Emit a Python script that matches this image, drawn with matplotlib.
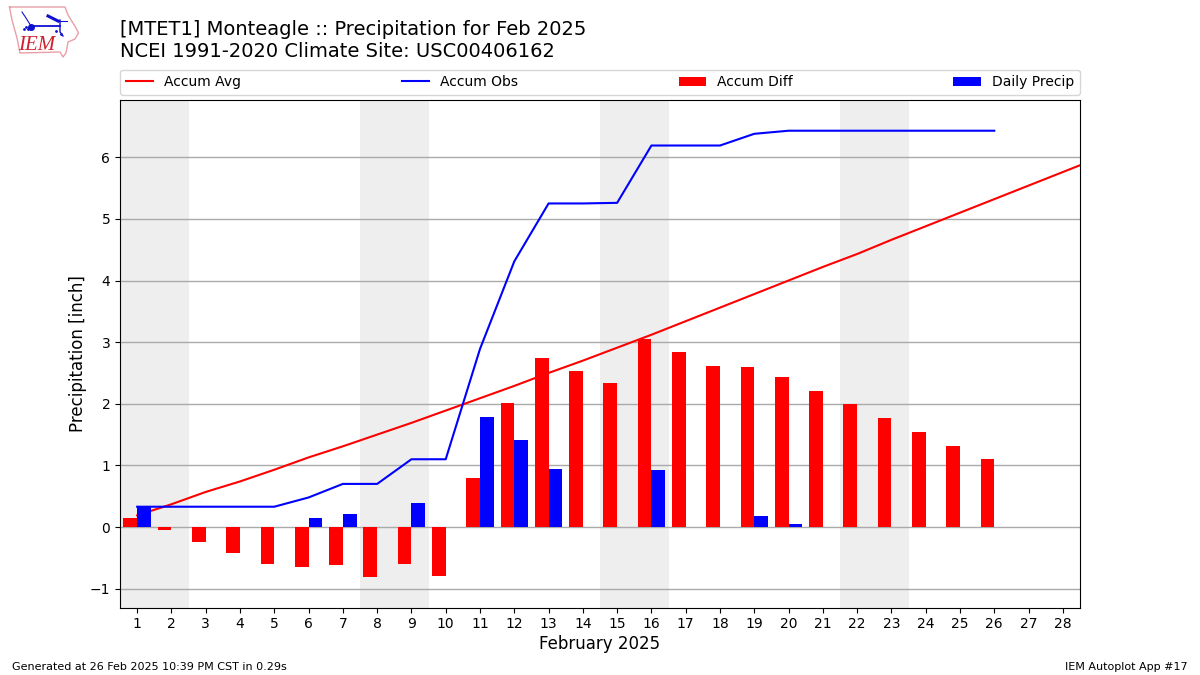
import numpy as np
import matplotlib
matplotlib.use('Agg')
import matplotlib.pyplot as plt

# values
days = list(range(1, 29))
avg_days = list(range(1, 30))
accum_avg = [0.19, 0.37, 0.57, 0.74, 0.93, 1.13, 1.31, 1.50, 1.69, 1.89,
             2.09, 2.29, 2.50, 2.70, 2.91, 3.12, 3.34, 3.56, 3.78, 4.00,
             4.22, 4.43, 4.66, 4.88, 5.10, 5.32, 5.54, 5.76, 5.98]
obs_days = list(range(1, 27))
accum_obs = [0.33, 0.33, 0.33, 0.33, 0.33, 0.48, 0.70, 0.70, 1.10, 1.10,
             2.89, 4.31, 5.25, 5.25, 5.26, 6.19, 6.19, 6.19, 6.38, 6.43,
             6.43, 6.43, 6.43, 6.43, 6.43, 6.43]
accum_diff = [0.15, -0.04, -0.24, -0.42, -0.60, -0.65, -0.61, -0.81, -0.60, -0.79,
              0.80, 2.02, 2.75, 2.53, 2.34, 3.05, 2.84, 2.62, 2.60, 2.43,
              2.21, 2.00, 1.77, 1.55, 1.32, 1.10]
daily_precip = [0.33, 0, 0, 0, 0, 0.15, 0.21, 0, 0.39, 0,
                1.79, 1.42, 0.94, 0, 0, 0.93, 0, 0, 0.18, 0.05,
                0, 0, 0, 0, 0, 0]
weekends = [(0.5, 2.5), (7.5, 9.5), (14.5, 16.5), (21.5, 23.5)]
yticks = [-1, 0, 1, 2, 3, 4, 5, 6]


def draw_logo(fig):
    # rough IEM logo, pixel coordinates
    lax = fig.add_axes([0, 1 - 100 / 675, 200 / 1200, 100 / 675])
    lax.set_xlim(0, 200)
    lax.set_ylim(100, 0)
    lax.axis('off')
    ox = [9.5, 65, 68, 76, 78.5, 75, 68, 66, 63, 60, 20, 17, 12, 9.5]
    oy = [7, 7, 15, 28, 33, 39, 42, 53, 57, 52, 53, 38, 20, 7]
    lax.plot(ox, oy, color='#e8a0a8', lw=1)
    lax.plot([31, 60], [26, 26], color='#1010d0', lw=1.3)
    lax.plot([60, 60, 63], [20, 32, 36], color='#1010d0', lw=1)
    lax.plot([48, 54, 58], [16, 19, 21], color='#1010d0', lw=2.2)
    lax.plot([58, 67], [21, 21], color='#1010d0', lw=0.8)
    lax.plot([22, 26, 31], [12, 18, 26], color='#1010d0', lw=0.8)
    lax.plot([31], [26.5], 'o', color='#1010d0', ms=4)
    lax.plot([24, 26, 28, 56, 61], [29, 27, 29, 31, 34], '.', color='#1010d0', ms=2)
    lax.text(37, 45, 'IEM', color='#d02030', family='Liberation Serif', style='italic',
             fontsize=15, ha='center', va='center')


def main():
    fig = plt.figure(figsize=(12, 6.75), dpi=100)
    ax = fig.add_axes([0.1, 0.1, 0.8, 0.752])

    for lo, hi in weekends:
        ax.axvspan(lo, hi, color='#eeeeee', lw=0, zorder=0)
    ax.yaxis.grid(True, color='#aaaaaa', lw=1)
    ax.set_axisbelow(True)

    ax.plot(avg_days, accum_avg, color='r', label='Accum Avg', zorder=2)
    ax.plot(obs_days, accum_obs, color='b', label='Accum Obs', zorder=2)
    ax.bar(obs_days, accum_diff, width=-0.4, align='edge', color='r',
           label='Accum Diff', zorder=3)
    ax.bar(obs_days, daily_precip, width=0.4, align='edge', color='b',
           label='Daily Precip', zorder=3)

    ax.set_xlim(0.5, 28.5)
    ax.set_ylim(-1.305, 6.93)
    ax.set_xticks(days)
    ax.set_yticks(yticks)
    ax.set_xlabel('February 2025', fontsize=12, labelpad=3)
    ax.set_ylabel('Precipitation [inch]', fontsize=12, labelpad=2)
    ax.legend(loc='lower left', bbox_to_anchor=(0, 1.01, 1, 0.05), mode='expand',
              ncol=4, borderaxespad=0, fontsize=10)

    fig.text(0.1, 0.91, '[MTET1] Monteagle :: Precipitation for Feb 2025\n'
             'NCEI 1991-2020 Climate Site: USC00406162', fontsize=14, va='bottom')
    fig.text(0.01, 0.008, 'Generated at 26 Feb 2025 10:39 PM CST in 0.29s', fontsize=8)
    fig.text(0.99, 0.008, 'IEM Autoplot App #17', fontsize=8, ha='right')

    draw_logo(fig)
    fig.savefig('out.png', dpi=100)


if __name__ == "__main__":
    main()
